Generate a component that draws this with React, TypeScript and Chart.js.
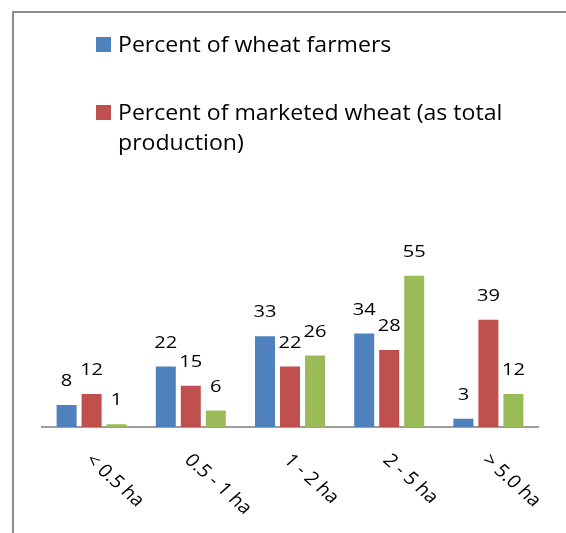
import { useEffect, useRef } from 'react';
import { Chart, registerables } from 'chart.js';

Chart.register(...registerables);

const categories = ['< 0.5 ha', '0.5 - 1 ha', '1 - 2 ha', '2 - 5 ha', '> 5.0 ha'];
const farmersPct = [8, 22, 33, 34, 3];
const marketedPct = [12, 15, 22, 28, 39];
const productionPct = [1, 6, 26, 55, 12];
const seriesLabels = [
  'Percent of wheat farmers',
  'Percent of marketed wheat (as total production)',
  'Percent of wheat production',
];
const legendLines = [
  ['Percent of wheat farmers'],
  ['Percent of marketed wheat (as total', 'production)'],
];
const seriesColors = ['#4F81BD', '#C0504D', '#9BBB59'];

const FONT = '"Open Sans", sans-serif';

const textPlugin = {
  id: 'excelTexts',
  afterDraw(chart: any) {
    const ctx = chart.ctx as CanvasRenderingContext2D;
    const area = chart.chartArea;
    ctx.save();
    ctx.fillStyle = '#000000';

    // value labels above bars
    ctx.font = `17px ${FONT}`;
    ctx.textAlign = 'center';
    ctx.textBaseline = 'alphabetic';
    chart.data.datasets.forEach((ds: any, i: number) => {
      const meta = chart.getDatasetMeta(i);
      meta.data.forEach((bar: any, j: number) => {
        ctx.save();
        ctx.translate(bar.x, bar.y - 19);
        ctx.scale(1.18, 1);
        ctx.fillText(String(ds.data[j]), 0, 0);
        ctx.restore();
      });
    });

    // rotated category labels
    const xs = chart.scales.x;
    ctx.font = `18px ${FONT}`;
    ctx.textAlign = 'left';
    ctx.textBaseline = 'top';
    categories.forEach((c, j) => {
      const x = xs.getPixelForValue(j);
      ctx.save();
      ctx.translate(x + 4, area.bottom + 24);
      ctx.scale(1.12, 1);
      ctx.rotate(Math.PI / 4);
      ctx.fillText(c, 0, 0);
      ctx.restore();
    });

    // legend (only first two series are visible in the frame)
    const baselines = [52, 120];
    ctx.font = `21px ${FONT}`;
    ctx.textBaseline = 'alphabetic';
    legendLines.forEach((lines, i) => {
      ctx.fillStyle = seriesColors[i];
      ctx.fillRect(96, baselines[i] - 15, 15, 15);
      ctx.fillStyle = '#000000';
      lines.forEach((ln, k) => {
        ctx.save();
        ctx.translate(118, baselines[i] + k * 30);
        ctx.scale(1.1, 1);
        ctx.fillText(ln, 0, 0);
        ctx.restore();
      });
    });
    ctx.restore();
  },
};

export default function App() {
  const ref = useRef<HTMLCanvasElement | null>(null);
  useEffect(() => {
    if (!ref.current) return;
    const chart = new Chart(ref.current, {
      type: 'bar',
      data: {
        labels: categories,
        datasets: [farmersPct, marketedPct, productionPct].map((d, i) => ({
          label: seriesLabels[i],
          data: d,
          backgroundColor: seriesColors[i],
          borderWidth: 0,
          barPercentage: 0.8,
          categoryPercentage: 0.756,
        })),
      },
      options: {
        animation: false,
        responsive: false,
        devicePixelRatio: 1,
        layout: { padding: { left: 42, right: 28, top: 262, bottom: 106 } },
        plugins: { legend: { display: false }, tooltip: { enabled: false } },
        scales: {
          x: {
            grid: { display: false, drawTicks: false },
            ticks: { display: false },
            border: { display: true, color: '#9d9d9d', width: 2 },
          },
          y: { display: false, min: 0, max: 60 },
        },
      },
      plugins: [textPlugin],
    });
    return () => chart.destroy();
  }, []);

  return (
    <div style={{ position: 'fixed', left: 0, top: 0, width: 566, height: 533, overflow: 'hidden', background: '#ffffff' }}>
      <div
        style={{
          position: 'absolute',
          left: 12,
          top: 11,
          width: 700,
          height: 700,
          borderLeft: '2px solid #8e8e8e',
          borderTop: '2px solid #8e8e8e',
        }}
      />
      <canvas ref={ref} width={566} height={533} style={{ position: 'absolute', left: 0, top: 0 }} />
    </div>
  );
}
